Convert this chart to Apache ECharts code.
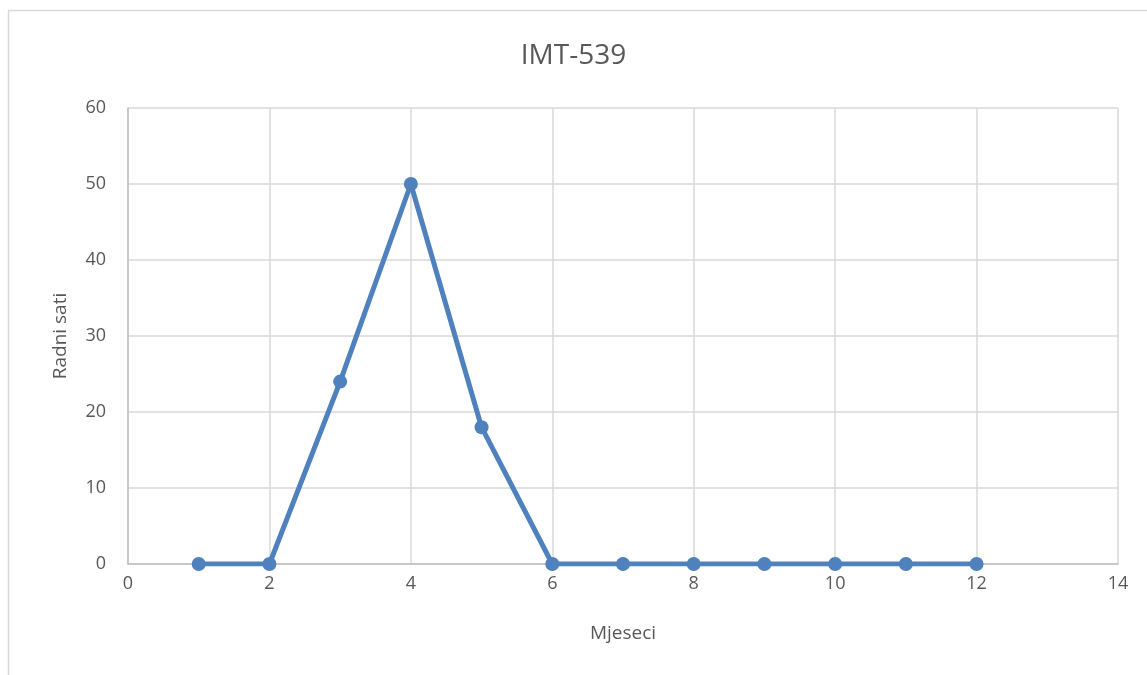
<!DOCTYPE html>
<html><head><meta charset="utf-8">
<script src="https://cdn.jsdelivr.net/npm/echarts@6/dist/echarts.min.js"></script>
<style>html,body{margin:0;padding:0;background:#fff}#c{width:1147px;height:675px}</style>
</head><body><div id="c"></div>
<script>
const months = [1,2,3,4,5,6,7,8,9,10,11,12];
const hours = [0,0,24,50,18,0,0,0,0,0,0,0];
const xTicks = [0,2,4,6,8,10,12,14];
const yTicks = [0,10,20,30,40,50,60];
const titleText = 'IMT-539';
const xName = 'Mjeseci';
const yName = 'Radni sati';

const chart = echarts.init(document.getElementById('c'));
const font = '"Open Sans", sans-serif';
chart.setOption({
  animation: false,
  title: {text: titleText, left: 'center', top: 37, textStyle: {fontFamily: font, fontSize: 28, fontWeight: 'normal', color: '#595959'}},
  graphic: [{type: 'rect', shape: {x: 8.5, y: 10.5, width: 1160, height: 700}, style: {fill: 'none', stroke: '#d9d9d9', lineWidth: 1.5}, silent: true, z: -1}],
  grid: {left: 128, right: 29, top: 108, bottom: 111},
  xAxis: {
    type: 'value', min: xTicks[0], max: xTicks[xTicks.length-1], interval: 2,
    name: xName, nameLocation: 'middle', nameGap: 60,
    nameTextStyle: {fontFamily: font, fontSize: 19, color: '#595959'},
    axisLine: {show: true, lineStyle: {color: '#bfbfbf', width: 1.5}},
    axisTick: {show: false},
    axisLabel: {fontFamily: font, fontSize: 18, color: '#595959', margin: 11},
    splitLine: {show: true, lineStyle: {color: '#d9d9d9', width: 1.5}}
  },
  yAxis: {
    type: 'value', min: yTicks[0], max: yTicks[yTicks.length-1], interval: 10,
    name: yName, nameLocation: 'middle', nameGap: 58,
    nameTextStyle: {fontFamily: font, fontSize: 19, color: '#595959'},
    axisLine: {show: true, lineStyle: {color: '#bfbfbf', width: 1.5}},
    axisTick: {show: false},
    axisLabel: {fontFamily: font, fontSize: 18, color: '#595959', margin: 22},
    splitLine: {show: true, lineStyle: {color: '#d9d9d9', width: 1.5}}
  },
  series: [{
    type: 'line',
    data: months.map((m, i) => [m, hours[i]]),
    symbol: 'circle', symbolSize: 14,
    lineStyle: {color: '#4f81bd', width: 5},
    itemStyle: {color: '#4f81bd'}
  }]
});
</script></body></html>
